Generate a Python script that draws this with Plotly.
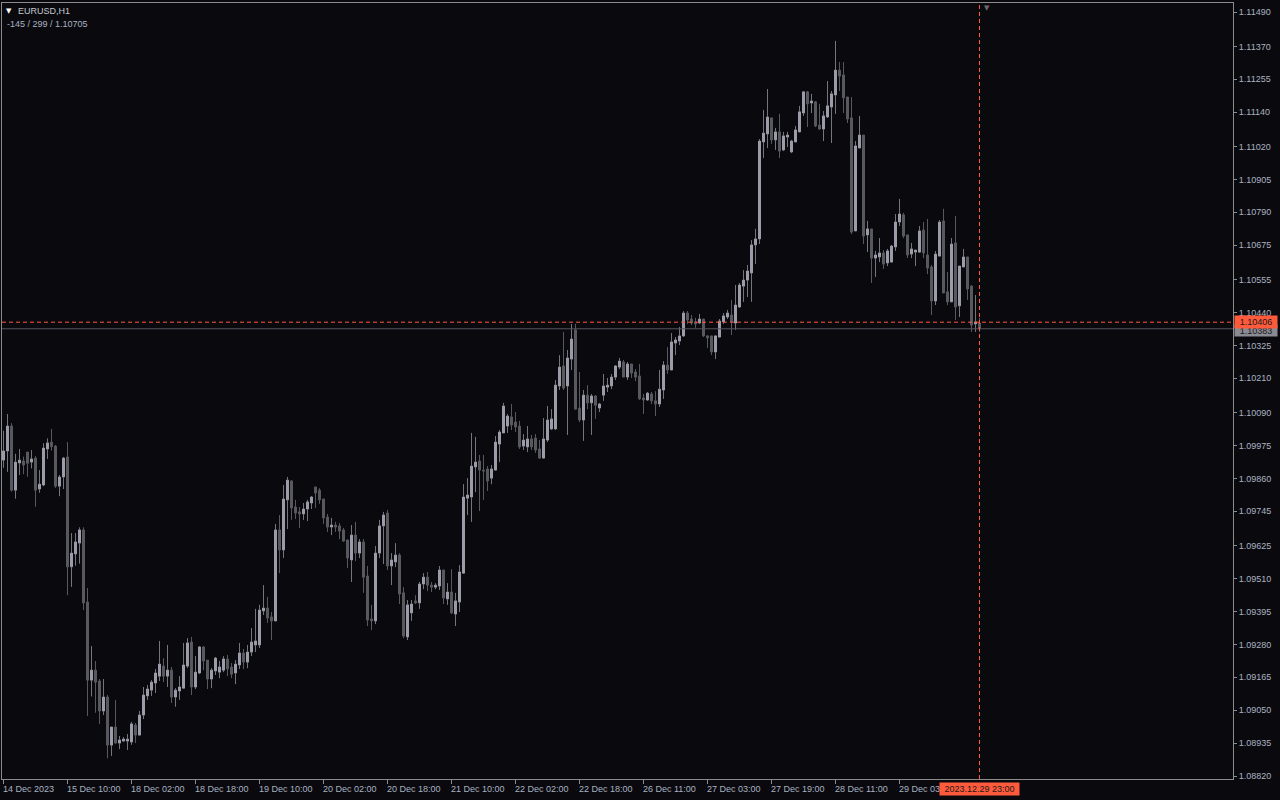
import plotly.graph_objects as go
import pandas as pd

# ---------------- data ----------------
symbol_title = "EURUSD,H1"
info_line = "-145 / 299 / 1.10705"

# trading sessions (start, number of hourly bars)
sessions = [("2023-12-14 18:00", 6), ("2023-12-15 00:00", 24), ("2023-12-18 00:00", 24),
            ("2023-12-19 00:00", 24), ("2023-12-20 00:00", 24), ("2023-12-21 00:00", 24),
            ("2023-12-22 00:00", 24), ("2023-12-26 01:00", 23), ("2023-12-27 00:00", 24),
            ("2023-12-28 00:00", 24), ("2023-12-29 00:00", 24)]
times = []
for start, n in sessions:
    times += list(pd.date_range(start, periods=n, freq="h"))
categories = [t.strftime("%Y.%m.%d %H:%M") for t in times]

open_ = [1.09924, 1.09956, 1.10043, 1.09819, 1.09914, 1.09921, 1.09952, 1.09917, 1.09931, 1.09823,
         1.09837, 1.09963, 1.09987, 1.09973, 1.09833, 1.09865, 1.09935, 1.09551, 1.09596, 1.09634,
         1.09680, 1.09428, 1.09155, 1.09190, 1.09152, 1.09047, 1.09096, 1.08928, 1.08991, 1.08935,
         1.08942, 1.08942, 1.08939, 1.08998, 1.08963, 1.09033, 1.09100, 1.09120, 1.09145, 1.09169,
         1.09204, 1.09169, 1.09190, 1.09096, 1.09117, 1.09127, 1.09204, 1.09288, 1.09131, 1.09180,
         1.09271, 1.09225, 1.09159, 1.09187, 1.09183, 1.09190, 1.09229, 1.09201, 1.09180, 1.09208,
         1.09250, 1.09218, 1.09253, 1.09278, 1.09278, 1.09397, 1.09407, 1.09376, 1.09362, 1.09680,
         1.09610, 1.09785, 1.09851, 1.09760, 1.09743, 1.09736, 1.09753, 1.09774, 1.09830, 1.09819,
         1.09788, 1.09725, 1.09690, 1.09697, 1.09694, 1.09680, 1.09645, 1.09575, 1.09662, 1.09599,
         1.09638, 1.09519, 1.09369, 1.09362, 1.09599, 1.09694, 1.09739, 1.09554, 1.09568, 1.09592,
         1.09460, 1.09306, 1.09390, 1.09432, 1.09425, 1.09491, 1.09515, 1.09487, 1.09480, 1.09484,
         1.09540, 1.09439, 1.09463, 1.09386, 1.09428, 1.09529, 1.09791, 1.09795, 1.09900, 1.09921,
         1.09889, 1.09893, 1.09861, 1.09889, 1.09980, 1.10019, 1.10043, 1.10075, 1.10057, 1.10043,
         1.09973, 1.09970, 1.09998, 1.10001, 1.09963, 1.09931, 1.09994, 1.10033, 1.10033, 1.10183,
         1.10253, 1.10183, 1.10277, 1.10379, 1.10106, 1.10064, 1.10151, 1.10124, 1.10148, 1.10106,
         1.10151, 1.10179, 1.10183, 1.10214, 1.10249, 1.10267, 1.10214, 1.10260, 1.10232, 1.10218,
         1.10141, 1.10134, 1.10155, 1.10131, 1.10120, 1.10169, 1.10256, 1.10239, 1.10333, 1.10340,
         1.10358, 1.10438, 1.10417, 1.10407, 1.10403, 1.10417, 1.10358, 1.10358, 1.10302, 1.10354,
         1.10407, 1.10424, 1.10431, 1.10403, 1.10459, 1.10532, 1.10553, 1.10578, 1.10676, 1.10697,
         1.11036, 1.11064, 1.11120, 1.11043, 1.11071, 1.11008, 1.11053, 1.11001, 1.11036, 1.11071,
         1.11137, 1.11211, 1.11172, 1.11176, 1.11095, 1.11081, 1.11123, 1.11158, 1.11200, 1.11287,
         1.11270, 1.11193, 1.11120, 1.10725, 1.11015, 1.11060, 1.10711, 1.10732, 1.10630, 1.10634,
         1.10648, 1.10613, 1.10616, 1.10669, 1.10756, 1.10781, 1.10711, 1.10644, 1.10651, 1.10651,
         1.10728, 1.10641, 1.10599, 1.10480, 1.10637, 1.10760, 1.10512, 1.10477, 1.10683, 1.10463,
         1.10599, 1.10634, 1.10532, 1.10400, 1.10403]

high = [1.10027, 1.10085, 1.10053, 1.09946, 1.09963, 1.09936, 1.09952, 1.09959, 1.09938, 1.09889,
        1.09983, 1.10000, 1.10033, 1.09977, 1.09872, 1.09935, 1.09987, 1.09669, 1.09669, 1.09689,
        1.09689, 1.09477, 1.09274, 1.09222, 1.09159, 1.09159, 1.09103, 1.08991, 1.09086, 1.08960,
        1.08956, 1.08967, 1.09009, 1.09005, 1.09047, 1.09131, 1.09138, 1.09155, 1.09194, 1.09292,
        1.09232, 1.09278, 1.09201, 1.09127, 1.09169, 1.09285, 1.09302, 1.09306, 1.09239, 1.09274,
        1.09274, 1.09225, 1.09197, 1.09236, 1.09222, 1.09239, 1.09243, 1.09215, 1.09225, 1.09285,
        1.09264, 1.09278, 1.09337, 1.09404, 1.09418, 1.09487, 1.09446, 1.09393, 1.09701, 1.09732,
        1.09837, 1.09865, 1.09854, 1.09785, 1.09760, 1.09774, 1.09785, 1.09798, 1.09830, 1.09826,
        1.09788, 1.09736, 1.09722, 1.09708, 1.09704, 1.09687, 1.09645, 1.09697, 1.09708, 1.09648,
        1.09648, 1.09554, 1.09418, 1.09624, 1.09715, 1.09743, 1.09750, 1.09599, 1.09634, 1.09599,
        1.09480, 1.09435, 1.09435, 1.09452, 1.09498, 1.09529, 1.09533, 1.09498, 1.09494, 1.09554,
        1.09540, 1.09494, 1.09543, 1.09460, 1.09557, 1.09840, 1.09861, 1.10019, 1.10005, 1.09942,
        1.09942, 1.09903, 1.09907, 1.10008, 1.10029, 1.10124, 1.10085, 1.10120, 1.10092, 1.10061,
        1.10015, 1.10043, 1.10012, 1.10015, 1.09994, 1.10071, 1.10113, 1.10102, 1.10204, 1.10291,
        1.10372, 1.10309, 1.10400, 1.10400, 1.10232, 1.10169, 1.10186, 1.10155, 1.10151, 1.10124,
        1.10225, 1.10211, 1.10225, 1.10256, 1.10281, 1.10274, 1.10267, 1.10260, 1.10242, 1.10260,
        1.10155, 1.10162, 1.10162, 1.10165, 1.10239, 1.10270, 1.10319, 1.10368, 1.10354, 1.10389,
        1.10445, 1.10445, 1.10431, 1.10421, 1.10435, 1.10417, 1.10361, 1.10358, 1.10361, 1.10417,
        1.10438, 1.10449, 1.10484, 1.10536, 1.10543, 1.10588, 1.10606, 1.10693, 1.10732, 1.11046,
        1.11148, 1.11221, 1.11120, 1.11085, 1.11134, 1.11071, 1.11071, 1.11043, 1.11092, 1.11162,
        1.11214, 1.11214, 1.11204, 1.11179, 1.11169, 1.11144, 1.11249, 1.11214, 1.11389, 1.11315,
        1.11315, 1.11193, 1.11193, 1.11039, 1.11127, 1.11060, 1.10760, 1.10732, 1.10655, 1.10700,
        1.10658, 1.10662, 1.10676, 1.10784, 1.10837, 1.10788, 1.10711, 1.10683, 1.10658, 1.10742,
        1.10756, 1.10767, 1.10606, 1.10655, 1.10763, 1.10802, 1.10581, 1.10700, 1.10777, 1.10602,
        1.10662, 1.10634, 1.10536, 1.10501, 1.10421]

low = [1.09897, 1.09883, 1.09814, 1.09789, 1.09872, 1.09875, 1.09866, 1.09895, 1.09761, 1.09810,
       1.09833, 1.09928, 1.09957, 1.09827, 1.09798, 1.09823, 1.09452, 1.09481, 1.09555, 1.09562,
       1.09400, 1.09030, 1.09098, 1.09041, 1.09002, 1.09033, 1.08882, 1.08890, 1.08934, 1.08914,
       1.08942, 1.08911, 1.08929, 1.08935, 1.08963, 1.09019, 1.09086, 1.09100, 1.09110, 1.09152,
       1.09148, 1.09131, 1.09075, 1.09062, 1.09086, 1.09127, 1.09197, 1.09103, 1.09124, 1.09176,
       1.09190, 1.09124, 1.09127, 1.09173, 1.09162, 1.09183, 1.09169, 1.09162, 1.09141, 1.09194,
       1.09194, 1.09197, 1.09239, 1.09253, 1.09267, 1.09383, 1.09355, 1.09295, 1.09362, 1.09529,
       1.09582, 1.09683, 1.09715, 1.09718, 1.09687, 1.09715, 1.09711, 1.09753, 1.09757, 1.09771,
       1.09701, 1.09673, 1.09662, 1.09673, 1.09648, 1.09638, 1.09547, 1.09498, 1.09571, 1.09582,
       1.09460, 1.09344, 1.09330, 1.09351, 1.09582, 1.09561, 1.09540, 1.09487, 1.09550, 1.09421,
       1.09302, 1.09295, 1.09362, 1.09421, 1.09404, 1.09473, 1.09466, 1.09463, 1.09473, 1.09470,
       1.09421, 1.09418, 1.09386, 1.09344, 1.09393, 1.09529, 1.09732, 1.09708, 1.09812, 1.09746,
       1.09785, 1.09816, 1.09840, 1.09889, 1.09917, 1.10019, 1.10019, 1.10029, 1.10022, 1.09963,
       1.09959, 1.09952, 1.09959, 1.09949, 1.09928, 1.09931, 1.09987, 1.10029, 1.10029, 1.10169,
       1.10169, 1.10012, 1.10239, 1.10102, 1.10057, 1.09991, 1.10102, 1.10012, 1.10068, 1.10092,
       1.10131, 1.10162, 1.10172, 1.10204, 1.10242, 1.10214, 1.10204, 1.10211, 1.10200, 1.10134,
       1.10085, 1.10131, 1.10120, 1.10078, 1.10110, 1.10138, 1.10225, 1.10239, 1.10291, 1.10326,
       1.10354, 1.10400, 1.10396, 1.10386, 1.10400, 1.10354, 1.10316, 1.10291, 1.10277, 1.10354,
       1.10400, 1.10417, 1.10361, 1.10379, 1.10456, 1.10477, 1.10494, 1.10477, 1.10609, 1.10679,
       1.10980, 1.11015, 1.11029, 1.11008, 1.10980, 1.11004, 1.11018, 1.10997, 1.11036, 1.11071,
       1.11127, 1.11088, 1.11137, 1.11088, 1.11078, 1.11039, 1.11120, 1.11032, 1.11134, 1.11214,
       1.11137, 1.11102, 1.10714, 1.10725, 1.11015, 1.10679, 1.10651, 1.10543, 1.10564, 1.10616,
       1.10592, 1.10602, 1.10616, 1.10655, 1.10742, 1.10700, 1.10630, 1.10630, 1.10602, 1.10648,
       1.10630, 1.10574, 1.10431, 1.10466, 1.10637, 1.10508, 1.10466, 1.10477, 1.10414, 1.10424,
       1.10599, 1.10484, 1.10372, 1.10372, 1.10372]

close = [1.09956, 1.10043, 1.09819, 1.09917, 1.09924, 1.09907, 1.09913, 1.09928, 1.09819, 1.09840,
         1.09966, 1.09984, 1.09971, 1.09833, 1.09865, 1.09931, 1.09551, 1.09599, 1.09638, 1.09680,
         1.09425, 1.09155, 1.09190, 1.09148, 1.09047, 1.09096, 1.08928, 1.08991, 1.08935, 1.08946,
         1.08949, 1.08949, 1.09002, 1.08963, 1.09033, 1.09103, 1.09124, 1.09148, 1.09180, 1.09211,
         1.09169, 1.09190, 1.09096, 1.09120, 1.09131, 1.09208, 1.09285, 1.09131, 1.09183, 1.09271,
         1.09222, 1.09159, 1.09190, 1.09232, 1.09201, 1.09229, 1.09194, 1.09176, 1.09211, 1.09250,
         1.09218, 1.09253, 1.09288, 1.09292, 1.09400, 1.09407, 1.09372, 1.09362, 1.09680, 1.09610,
         1.09788, 1.09854, 1.09757, 1.09739, 1.09736, 1.09753, 1.09778, 1.09795, 1.09809, 1.09785,
         1.09722, 1.09690, 1.09697, 1.09690, 1.09676, 1.09641, 1.09582, 1.09662, 1.09599, 1.09638,
         1.09515, 1.09365, 1.09362, 1.09599, 1.09694, 1.09732, 1.09554, 1.09575, 1.09592, 1.09456,
         1.09309, 1.09418, 1.09421, 1.09425, 1.09491, 1.09515, 1.09487, 1.09480, 1.09487, 1.09540,
         1.09442, 1.09463, 1.09390, 1.09432, 1.09533, 1.09795, 1.09802, 1.09903, 1.09917, 1.09889,
         1.09886, 1.09851, 1.09893, 1.09987, 1.10022, 1.10113, 1.10078, 1.10047, 1.10040, 1.09970,
         1.09994, 1.09998, 1.09970, 1.09959, 1.09931, 1.09998, 1.10064, 1.10068, 1.10186, 1.10249,
         1.10176, 1.10281, 1.10347, 1.10102, 1.10064, 1.10151, 1.10124, 1.10148, 1.10116, 1.10120,
         1.10183, 1.10186, 1.10214, 1.10253, 1.10270, 1.10214, 1.10260, 1.10228, 1.10214, 1.10138,
         1.10134, 1.10158, 1.10131, 1.10120, 1.10172, 1.10256, 1.10239, 1.10337, 1.10344, 1.10358,
         1.10438, 1.10414, 1.10403, 1.10400, 1.10417, 1.10358, 1.10351, 1.10302, 1.10358, 1.10410,
         1.10428, 1.10438, 1.10407, 1.10466, 1.10536, 1.10553, 1.10585, 1.10676, 1.10697, 1.11039,
         1.11067, 1.11123, 1.11043, 1.11071, 1.11004, 1.11057, 1.11060, 1.11039, 1.11078, 1.11141,
         1.11211, 1.11169, 1.11179, 1.11092, 1.11081, 1.11127, 1.11162, 1.11204, 1.11287, 1.11266,
         1.11190, 1.11116, 1.10721, 1.11022, 1.11060, 1.10707, 1.10732, 1.10630, 1.10641, 1.10648,
         1.10609, 1.10655, 1.10672, 1.10756, 1.10784, 1.10707, 1.10641, 1.10662, 1.10658, 1.10725,
         1.10648, 1.10595, 1.10480, 1.10644, 1.10756, 1.10508, 1.10477, 1.10679, 1.10459, 1.10602,
         1.10634, 1.10522, 1.10396, 1.10407, 1.10383]

x_tick_times = ["2023.12.14 18:00", "2023.12.15 10:00", "2023.12.18 02:00", "2023.12.18 18:00",
                "2023.12.19 10:00", "2023.12.20 02:00", "2023.12.20 18:00", "2023.12.21 10:00",
                "2023.12.22 02:00", "2023.12.22 18:00", "2023.12.26 11:00", "2023.12.27 03:00",
                "2023.12.27 19:00", "2023.12.28 11:00", "2023.12.29 03:00"]
x_tick_labels = ["14 Dec 2023", "15 Dec 10:00", "18 Dec 02:00", "18 Dec 18:00", "19 Dec 10:00",
                 "20 Dec 02:00", "20 Dec 18:00", "21 Dec 10:00", "22 Dec 02:00", "22 Dec 18:00",
                 "26 Dec 11:00", "27 Dec 03:00", "27 Dec 19:00", "28 Dec 11:00", "29 Dec 03:00"]

y_tick_values = [1.11490, 1.11370, 1.11255, 1.11140, 1.11020, 1.10905, 1.10790, 1.10675,
                 1.10555, 1.10440, 1.10325, 1.10210, 1.10090, 1.09975, 1.09860, 1.09745,
                 1.09625, 1.09510, 1.09395, 1.09280, 1.09165, 1.09050, 1.08935, 1.08820]
y_tick_labels = ["1.11490", "1.11370", "1.11255", "1.11140", "1.11020", "1.10905", "1.10790",
                 "1.10675", "1.10555", "1.10440", "1.10325", "1.10210", "1.10090", "1.09975",
                 "1.09860", "1.09745", "1.09625", "1.09510", "1.09395", "1.09280", "1.09165",
                 "1.09050", "1.08935", "1.08820"]
y_range = [1.088095, 1.115215]

ask_price = 1.10406
bid_price = 1.10383
ask_label = "1.10406"
bid_label = "1.10383"
cursor_time = "2023.12.29 23:00"
cursor_label = "2023.12.29 23:00"

# ---------------- style ----------------
BG = "#0a0a0e"
BULL_BODY = "#9b9ba9"
BULL_WICK = "#75757e"
BEAR_BODY = "#58585f"
BEAR_WICK = "#58585f"
FRAME = "#8c8c8c"
TXT = "#aab2c2"
RED = "#ff5a3c"
BID_BG = "#8a8a92"
BID_LINE = "#55555e"
FONT = "Liberation Sans"

n = len(categories)
body_top = [max(o, c) for o, c in zip(open_, close)]
body_bot = [min(o, c) for o, c in zip(open_, close)]


def wick_path(bull):
    xs, ys = [], []
    for i in range(n):
        is_bull = close[i] > open_[i]
        if is_bull != bull:
            continue
        if high[i] > body_top[i]:
            xs += [categories[i], categories[i], None]
            ys += [body_top[i], high[i], None]
        if low[i] < body_bot[i]:
            xs += [categories[i], categories[i], None]
            ys += [low[i], body_bot[i], None]
    return xs, ys


fig = go.Figure()
for bull, col in ((True, BULL_WICK), (False, BEAR_WICK)):
    wx, wy = wick_path(bull)
    fig.add_trace(go.Scatter(x=wx, y=wy, mode="lines", line=dict(color=col, width=1),
                             hoverinfo="skip", showlegend=False, connectgaps=False))

fig.add_trace(go.Candlestick(
    x=categories, open=open_, close=close, high=body_top, low=body_bot,
    increasing=dict(line=dict(color=BULL_BODY, width=1), fillcolor=BULL_BODY),
    decreasing=dict(line=dict(color=BEAR_BODY, width=1), fillcolor=BEAR_BODY),
    whiskerwidth=0, showlegend=False, hoverinfo="skip"))

annotations = []
for t, lab in zip(x_tick_times, x_tick_labels):
    annotations.append(dict(x=t, xref="x", y=0, yref="paper", yanchor="top", xanchor="left",
                            xshift=-3, yshift=-3, text=lab, showarrow=False,
                            font=dict(family=FONT, size=9, color=TXT)))
annotations.append(dict(x=cursor_time, xref="x", y=0, yref="paper", yanchor="top", xanchor="center",
                        yshift=-3, text=cursor_label, showarrow=False, bgcolor=RED, borderpad=1,
                        width=77, font=dict(family=FONT, size=9, color="#1a1a1a")))
annotations.append(dict(x=1, xref="paper", y=bid_price, yref="y", xanchor="left", yanchor="middle",
                        xshift=1, yshift=-2, text=bid_label, showarrow=False, bgcolor=BID_BG, borderpad=0,
                        width=42, height=11, font=dict(family=FONT, size=9, color="#1a1a1a")))
annotations.append(dict(x=1, xref="paper", y=ask_price, yref="y", xanchor="left", yanchor="middle",
                        xshift=1, text=ask_label, showarrow=False, bgcolor=RED, borderpad=0,
                        width=42, height=12, font=dict(family=FONT, size=9, color="#1a1a1a")))
annotations.append(dict(x=0, xref="paper", y=1, yref="paper", xanchor="left", yanchor="top",
                        xshift=2, yshift=-2, text="▼", showarrow=False,
                        font=dict(family="DejaVu Sans", size=7, color="#ffffff")))
annotations.append(dict(x=0, xref="paper", y=1, yref="paper", xanchor="left", yanchor="top",
                        xshift=14, yshift=-1, text=symbol_title, showarrow=False,
                        font=dict(family=FONT, size=9, color="#c4c8d0")))
annotations.append(dict(x=0, xref="paper", y=1, yref="paper", xanchor="left", yanchor="top",
                        xshift=3, yshift=-14, text=info_line, showarrow=False,
                        font=dict(family=FONT, size=9, color=TXT)))
annotations.append(dict(x=0.8002, xref="paper", y=1, yref="paper", xanchor="center", yanchor="top",
                        yshift=1, text="▼", showarrow=False,
                        font=dict(family="DejaVu Sans", size=7, color="#6a6a70")))

shapes = [
    dict(type="line", xref="paper", x0=0, x1=1, yref="y", y0=bid_price, y1=bid_price,
         line=dict(color=BID_LINE, width=1)),
    dict(type="line", xref="paper", x0=0, x1=1, yref="y", y0=ask_price, y1=ask_price,
         line=dict(color=RED, width=1, dash="4px,3px")),
    dict(type="line", xref="x", x0=cursor_time, x1=cursor_time, yref="paper", y0=0, y1=1,
         line=dict(color=RED, width=1, dash="4px,3px")),
]

fig.update_layout(
    width=1280, height=800,
    margin=dict(l=2, r=47, t=3, b=21),
    paper_bgcolor=BG, plot_bgcolor=BG,
    showlegend=False,
    boxgap=0.5, boxgroupgap=0,
    annotations=annotations, shapes=shapes,
    xaxis=dict(type="category", categoryorder="array", categoryarray=categories,
               range=[-0.375, 307.375], rangeslider=dict(visible=False),
               showgrid=False, zeroline=False, showline=True, linecolor=FRAME, linewidth=1,
               mirror=True, ticks="outside", ticklen=4, tickcolor=FRAME,
               tickvals=x_tick_times, showticklabels=False, fixedrange=True),
    yaxis=dict(side="right", range=y_range, showgrid=False, zeroline=False, showline=True,
               linecolor=FRAME, linewidth=1, mirror=True, ticks="outside", ticklen=3,
               tickcolor=FRAME, tickvals=y_tick_values, ticktext=y_tick_labels,
               tickfont=dict(family=FONT, size=9, color=TXT), fixedrange=True),
    font=dict(family=FONT, size=9, color=TXT),
)

fig.write_html("out.html", config={"displayModeBar": False},
               post_script="document.body.style.margin='0';document.body.style.background='#0a0a0e';")
